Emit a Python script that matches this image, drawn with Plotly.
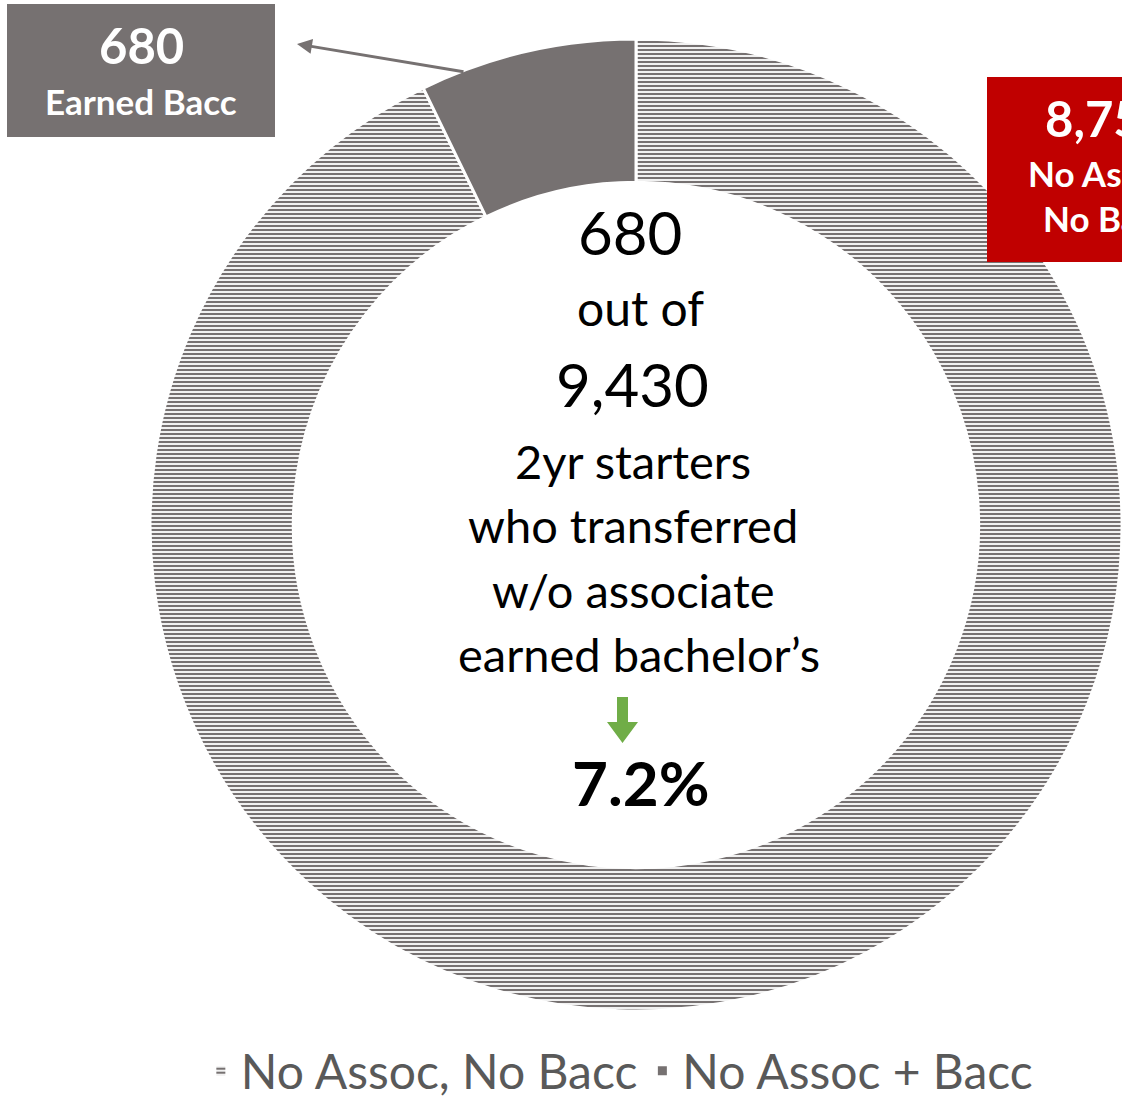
import plotly.graph_objects as go

# ---- data ----
labels = ["No Assoc, No Bacc", "No Assoc + Bacc"]
values = [8750, 680]
total = sum(values)
earned = values[1]
pct = earned / total * 100

W, H = 1122, 1101
def X(px):
    return px / W
def Y(py):
    return 1 - py / H

FONT = "Lato"
GRAY = "#767171"
RED = "#C00000"

fig = go.Figure()
fig.add_trace(go.Pie(
    labels=labels,
    values=values,
    hole=0.705,
    sort=False,
    direction="clockwise",
    rotation=0,
    textinfo="none",
    hoverinfo="label+value",
    domain=dict(x=[150 / W, 1.0], y=[Y(1012), Y(38)]),
    marker=dict(
        colors=["white", GRAY],
        line=dict(color="white", width=3),
        pattern=dict(shape=["-", ""], fgcolor=[GRAY, GRAY], bgcolor=["white", GRAY],
                     size=4, solidity=0.55, fillmode="overlay", fgopacity=1),
    ),
))

shapes = [
    # gray callout box
    dict(type="rect", xref="paper", yref="paper", x0=X(7), x1=X(275), y0=Y(137), y1=Y(4),
         fillcolor=GRAY, line=dict(width=0), layer="above"),
    # red callout box
    dict(type="rect", xref="paper", yref="paper", x0=X(987), x1=X(1215), y0=Y(262), y1=Y(77),
         fillcolor=RED, line=dict(width=0), layer="above"),
    # green down arrow
    dict(type="path", xref="paper", yref="paper",
         path=f"M {X(617)} {Y(697)} L {X(628)} {Y(697)} L {X(628)} {Y(722)} L {X(638)} {Y(722)} "
              f"L {X(622.5)} {Y(743)} L {X(607)} {Y(722)} L {X(617)} {Y(722)} Z",
         fillcolor="#70AD47", line=dict(width=0), layer="above"),
]

ann = []
def txt(t, px, py, size, bold=False, color="black"):
    ann.append(dict(text=f"<b>{t}</b>" if bold else t, x=X(px), y=Y(py), xref="paper", yref="paper",
                    xanchor="center", yanchor="middle", showarrow=False,
                    font=dict(family=FONT, size=size, color=color)))

# callout texts
txt(f"{earned:,}", 141, 45, 49, True, "white")
txt("Earned Bacc", 141, 101, 35, True, "white")
txt(f"{values[0]:,}", 1107, 118, 49, True, "white")
txt("No Assoc", 1101, 173, 35, True, "white")
txt("No Bacc", 1107, 218, 35, True, "white")

# center texts
txt(f"{earned:,}", 630, 232, 60)
txt("out of", 640, 307, 48)
txt(f"{total:,}", 632, 384, 60)
txt("2yr starters", 633, 461, 47)
txt("who transferred", 633, 525, 47)
txt("w/o associate", 633, 590, 47)
txt("earned bachelor\u2019s", 639, 654, 47)
txt(f"{pct:.1f}%", 640, 782, 62, True)

# arrow from slice to gray box
ann.append(dict(text="", x=X(297), y=Y(44), xref="paper", yref="paper",
                ax=168, ay=28, axref="pixel", ayref="pixel", showarrow=True,
                arrowhead=2, arrowsize=1, arrowwidth=3, arrowcolor=GRAY))

fig.update_layout(
    width=W, height=H,
    margin=dict(l=0, r=0, t=0, b=0, autoexpand=False),
    paper_bgcolor="white", plot_bgcolor="white",
    font=dict(family=FONT, color="#595959"),
    showlegend=True,
    legend=dict(orientation="h", x=0.552, xanchor="center", y=Y(1071), yanchor="middle",
                font=dict(family=FONT, size=48, color="#595959"), itemwidth=30,
                bgcolor="rgba(0,0,0,0)"),
    shapes=shapes,
    annotations=ann,
)

fig.write_html("out.html", config={"displayModeBar": False},
               post_script="document.body.style.margin='0';document.body.style.overflow='hidden';")
